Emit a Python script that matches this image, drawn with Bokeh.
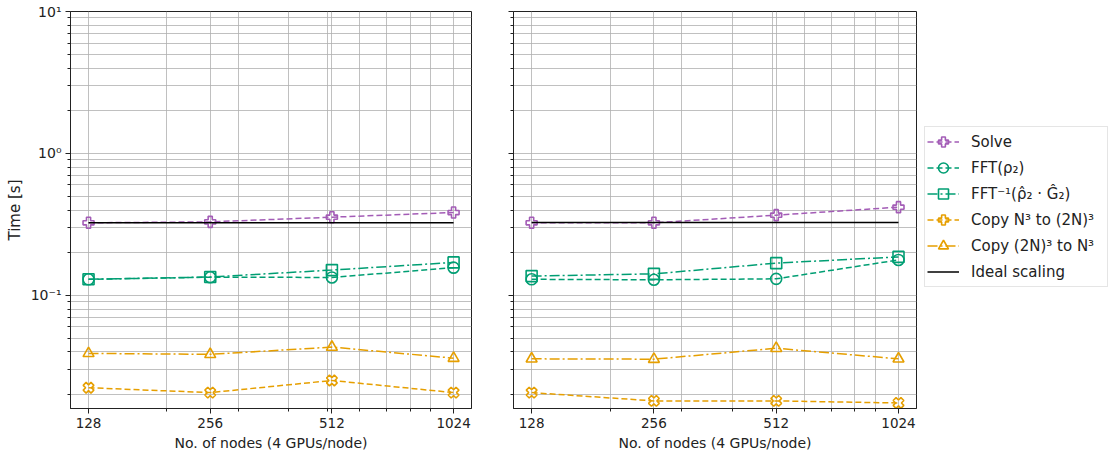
from bokeh.plotting import figure
from bokeh.layouts import row
from bokeh.models import (FixedTicker, CustomJSTickFormatter, Legend, LegendItem,
                          Range1d)
from bokeh.embed import file_html
from bokeh.resources import INLINE

# ---------------- data ----------------
nodes = [128, 256, 512, 1024]

# left panel
solve_L = [0.325, 0.330, 0.356, 0.384]
fft_L = [0.130, 0.1345, 0.134, 0.157]
ifft_L = [0.130, 0.135, 0.151, 0.171]
copy_up_L = [0.0224, 0.0207, 0.0252, 0.0207]
copy_down_L = [0.0391, 0.0385, 0.0433, 0.0362]
ideal_L = [0.325, 0.325, 0.325, 0.325]

# right panel
solve_R = [0.325, 0.325, 0.368, 0.419]
fft_R = [0.130, 0.129, 0.131, 0.178]
ifft_R = [0.137, 0.142, 0.169, 0.187]
copy_up_R = [0.0207, 0.0181, 0.0181, 0.0175]
copy_down_R = [0.0358, 0.0356, 0.0425, 0.0358]
ideal_R = [0.327, 0.327, 0.327, 0.327]

x_ticks = [128, 256, 512, 1024]
x_minor = [200, 300, 400, 500, 600, 700, 800, 900]
y_ticks = [0.1, 1, 10]
y_minor = [0.02, 0.03, 0.04, 0.05, 0.06, 0.07, 0.08, 0.09,
           0.2, 0.3, 0.4, 0.5, 0.6, 0.7, 0.8, 0.9,
           2, 3, 4, 5, 6, 7, 8, 9]

labels = ["Solve", "FFT(\u03c1\u2082)", "FFT\u207b\u00b9(\u03c1\u0302\u2082 \u00b7 G\u0302\u2082)",
          "Copy N\u00b3 to (2N)\u00b3", "Copy (2N)\u00b3 to N\u00b3", "Ideal scaling"]

PURPLE = "#a35cb6"
GREEN = "#009e73"
ORANGE = "#e69f00"
FONT = "DejaVu Sans"
GRID = "#b0b0b0"

SPECS = [
    (PURPLE, "6 3", "plus", 0.0),
    (GREEN, "6 3", "circle", 0.0),
    (GREEN, "10 3 2 3", "square", 0.0),
    (ORANGE, "6 3", "plus", 0.785398),
    (ORANGE, "10 3 2 3", "triangle", 0.0),
]


def make_fig(width, bl, br, show_ylabels):
    p = figure(width=width, height=454, x_axis_type="log", y_axis_type="log",
               output_backend="svg", toolbar_location=None,
               x_range=Range1d(115.5, 1134), y_range=Range1d(0.016, 10),
               min_border_left=bl, min_border_right=br,
               min_border_top=11, min_border_bottom=46)
    p.background_fill_color = "white"
    p.border_fill_color = "white"
    p.outline_line_color = "#222222"
    p.outline_line_width = 1
    p.xaxis.ticker = FixedTicker(ticks=x_ticks, minor_ticks=x_minor)
    p.yaxis.ticker = FixedTicker(ticks=y_ticks, minor_ticks=y_minor)
    p.xaxis.formatter = CustomJSTickFormatter(code="return String(Math.round(tick));")
    if show_ylabels:
        p.yaxis.formatter = CustomJSTickFormatter(code="""
            const e = Math.round(Math.log10(tick));
            const sup = {'-':'\u207b','0':'\u2070','1':'\u00b9','2':'\u00b2'};
            return '10' + String(e).split('').map(c => sup[c]).join('');
        """)
        p.yaxis.axis_label = "Time [s]"
    else:
        p.yaxis.formatter = CustomJSTickFormatter(code="return '';")
    p.xaxis.axis_label = "No. of nodes (4 GPUs/node)"
    for ax in (p.xaxis, p.yaxis):
        ax.axis_line_color = "#222222"
        ax.major_tick_line_color = "#222222"
        ax.minor_tick_line_color = "#222222"
        ax.major_tick_out = 5
        ax.major_tick_in = 0
        ax.minor_tick_out = 3
        ax.minor_tick_in = 0
        ax.major_label_text_font = FONT
        ax.major_label_text_font_size = "14px"
        ax.major_label_text_color = "#222222"
        ax.axis_label_text_font = FONT
        ax.axis_label_text_font_size = "14px"
        ax.axis_label_text_font_style = "normal"
        ax.axis_label_text_color = "#222222"
        ax.major_label_standoff = 4
        ax.axis_label_standoff = 4
    p.xaxis.major_label_text_font_size = "13.5px"
    p.yaxis.axis_label_text_font_size = "15px"
    for g in (p.xgrid, p.ygrid):
        g.grid_line_color = GRID
        g.grid_line_width = 0.8
        g.minor_grid_line_color = GRID
        g.minor_grid_line_width = 0.8
    return p


def draw(p, xs, series, ideal):
    rs = []
    for vals, (col, dash, marker, ang) in zip(series, SPECS):
        l = p.line(xs, vals, line_color=col, line_width=1.5, line_dash=dash)
        s = p.scatter(xs, vals, marker=marker, size=11, angle=ang,
                      line_color=col, line_width=1.6, fill_color="white",
                      fill_alpha=0.0)
        rs.append([l, s])
    li = p.line(xs, ideal, line_color="black", line_width=1.5)
    rs.append([li])
    return rs


p1 = make_fig(490, 70, 19, True)
draw(p1, nodes, [solve_L, fft_L, ifft_L, copy_up_L, copy_down_L], ideal_L)

p2 = make_fig(430, 23, 4, False)
draw(p2, nodes, [solve_R, fft_R, ifft_R, copy_up_R, copy_down_R], ideal_R)

# legend-only figure (proxy glyphs sit outside its visible range)
pl = figure(width=190, height=454, output_backend="svg", toolbar_location=None,
            x_range=Range1d(0, 1), y_range=Range1d(0, 1),
            x_axis_location=None, y_axis_location=None,
            min_border_left=0, min_border_right=0, min_border_top=0,
            min_border_bottom=0)
pl.outline_line_color = None
pl.xgrid.visible = False
pl.ygrid.visible = False
pl.background_fill_color = "white"
pl.border_fill_color = "white"
proxy_x = [-5, -4]
proxy_y = [-5, -4]
rs = draw(pl, proxy_x, [proxy_y] * 5, proxy_y)
items = [LegendItem(label=lab, renderers=r) for lab, r in zip(labels, rs)]

legend = Legend(items=items, location=(4, 121))
legend.label_text_font = FONT
legend.label_text_font_size = "15px"
legend.label_text_color = "#222222"
legend.label_height = 25
legend.glyph_height = 25
legend.glyph_width = 32
legend.label_width = 134
legend.label_standoff = 12
legend.spacing = 1
legend.padding = 2
legend.margin = 0
legend.border_line_color = "#cccccc"
legend.border_line_width = 1
legend.background_fill_color = "white"
legend.background_fill_alpha = 1
pl.add_layout(legend)

layout = row(p1, p2, pl)
open("out.html", "w").write(file_html(layout, INLINE))
